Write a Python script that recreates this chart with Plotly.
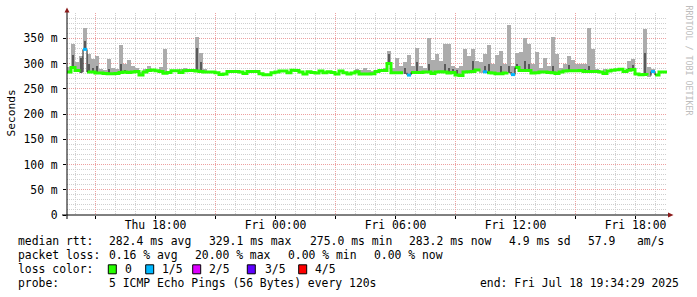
import plotly.graph_objects as go
import pandas as pd

# ---------------- data ----------------
# 150 bins of 12 minutes each, from Thu 13:34:29 to Fri 19:34:29
median_ms = [
    283, 292, 286, 283, 328, 283, 283, 281, 281, 280,
    279.5, 279.5, 280, 282, 283, 282, 283, 284, 277, 283,
    286, 287, 285.5, 284, 280.5, 282, 285.5, 285.5, 282, 285.5,
    286, 286, 285, 284, 283, 283, 283, 281.5, 278, 279,
    284, 284, 284, 283, 280, 284, 284, 284, 279.5, 277.5,
    277.5, 281.5, 283, 285, 285, 281.5, 286.5, 286, 283, 279,
    283.5, 282, 281, 285, 281.5, 283.5, 282, 279, 285, 281.5,
    279, 281, 283.5, 279, 279, 279, 279.5, 284, 286, 286,
    300, 281.5, 281.5, 281.5, 281.5, 277, 282, 282, 282, 283,
    283, 280, 283, 283.5, 283, 281, 282, 277, 276, 283,
    283.5, 284, 287, 284, 283.5, 281.5, 281, 279.5, 279.5, 281,
    283, 278, 292, 286, 286, 286, 281, 281.5, 283, 283,
    282, 281.5, 280, 283, 285, 285.5, 285.5, 285.5, 286, 284,
    284, 284, 284, 283, 280, 285, 286.5, 287.5, 288.5, 284,
    286.5, 288, 279, 277.5, 278, 276, 284, 277, 283, 283,
]

smoke_max_ms = [
    294, 339, 302, 315, 370, 319, 309, 315, 290, 287,
    309, 291, 289, 336, 300, 306, 295, 291, 283, 290,
    295, 290, None, 294, 328, None, None, None, 290, 292,
    None, 290, 352, 320, 290, None, None, None, None, None,
    None, None, None, None, None, None, None, None, None, None,
    None, None, None, None, None, None, None, None, None, None,
    None, None, None, None, None, None, None, None, None, None,
    None, None, 290, 288, 291, 288, 285, None, None, 292,
    325, 292, 310, 296, 303, 316, 295, 330, 296, 292,
    351, 306, 318, 304, 339, 339, 296, 292, 295, 328,
    314, 328, 305, 303, 318, 336, 300, 317, 325, 300,
    376, 295, 320, 323, 350, 339, 300, 323, 292, 310,
    295, 352, 319, 292, 300, 315, 306, 300, 300, 299,
    371, 329, 290, None, 290, None, None, 290, None, None,
    305, 309, None, None, 368, 294, 290, None, None, None,
]

smoke_inner_ms = [
    None, 316, 290, 310, 345, 300, 292, 295, None, None,
    290, None, None, 300, 288, None, None, None, None, None,
    None, None, None, None, None, None, None, None, None, None,
    None, None, 330, 302, None, None, None, None, None, None,
    None, None, None, None, None, None, None, None, None, None,
    None, None, None, None, None, None, None, None, None, None,
    None, None, None, None, None, None, None, None, None, None,
    None, None, None, None, None, None, None, None, None, None,
    318, None, None, None, 292, None, None, 302, None, None,
    300, None, None, None, 300, 292, 290, 288, None, None,
    None, 305, None, None, 295, 300, None, None, 295, None,
    296, None, 300, None, 305, 300, None, None, None, None,
    None, 295, None, None, None, 297, None, None, None, 290,
    295, None, None, None, None, None, None, None, None, None,
    292, 298, None, None, 320, None, None, None, None, None,
]

# bins whose median was drawn with 1/5 packet loss
loss_one_fifth_bins = [4, 85, 104, 111, 146]

start_time = "2025-07-17 13:34:29"
end_time = "2025-07-18 19:34:29"
bin_minutes = 12

y_tick_values = [0, 0.05, 0.10, 0.15, 0.20, 0.25, 0.30, 0.35]
y_tick_labels = ["0", "50 m", "100 m", "150 m", "200 m", "250 m", "300 m", "350 m"]
x_tick_times = ["2025-07-17 18:00", "2025-07-18 00:00", "2025-07-18 06:00",
                "2025-07-18 12:00", "2025-07-18 18:00"]
x_tick_labels = ["Thu 18:00", "Fri 00:00", "Fri 06:00", "Fri 12:00", "Fri 18:00"]
x_major_grid_times = ["2025-07-17 15:00", "2025-07-17 21:00", "2025-07-18 03:00",
                      "2025-07-18 09:00", "2025-07-18 15:00"]

loss_colors = ["#26ff00", "#00b8ff", "#dd00ff", "#5e00ff", "#ff0000"]
loss_labels = ["0", "1/5", "2/5", "3/5", "4/5"]

rtt_label = "median rtt:"
rtt_stats = ["282.4 ms avg", "329.1 ms max", "275.0 ms min", "283.2 ms now",
             "4.9 ms sd", "57.9", "am/s"]
loss_label = "packet loss:"
loss_stats = ["0.16 % avg", "20.00 % max", "0.00 % min", "0.00 % now"]
probe_label = "probe:"
probe_text = "5 ICMP Echo Pings (56 Bytes) every 120s"
end_text = "end: Fri Jul 18 19:34:29 2025"

# ---------------- layout constants ----------------
W, H = 697, 297
PL, PR, PT, PB = 67, 667, 13, 215   # plot area in pixels
MONO = "DejaVu Sans Mono"
FS = 11.4
MINOR = "#cfcfcf"
MAJOR = "#eda0a0"
LIGHT_SMOKE = "#acacac"
DARK_SMOKE = "#5a5a5a"
ARROW = "#8b1a1a"


def px(x):
    return (x - PL) / (PR - PL)


def py(y):
    return (PB - y) / (PB - PT)


t0 = pd.Timestamp(start_time)
step = pd.Timedelta(minutes=bin_minutes)
n = len(median_ms)
bin_starts = [t0 + i * step for i in range(n)]
bin_centers = [t + step / 2 for t in bin_starts]
bar_w = step.total_seconds() * 1000 * 0.9

fig = go.Figure()

# smoke: outer range
lx, ly, lb = [], [], []
for c, m, top in zip(bin_centers, median_ms, smoke_max_ms):
    if top is not None:
        lx.append(c)
        lb.append((m - 2) / 1000)
        ly.append((top - m + 2) / 1000)
fig.add_trace(go.Bar(x=lx, y=ly, base=lb, width=bar_w, marker_color=LIGHT_SMOKE,
                     marker_line_width=0, hoverinfo="skip", showlegend=False))

# smoke: inner range
dx, dy, db = [], [], []
for c, m, top in zip(bin_centers, median_ms, smoke_inner_ms):
    if top is not None:
        dx.append(c)
        db.append((m - 2) / 1000)
        dy.append((top - m + 2) / 1000)
fig.add_trace(go.Bar(x=dx, y=dy, base=db, width=bar_w * 0.75, marker_color=DARK_SMOKE,
                     marker_line_width=0, hoverinfo="skip", showlegend=False))

# median line (loss colour 0); bins with loss are left as gaps
mx = bin_starts + [bin_starts[-1] + step]
my = [None if i in loss_one_fifth_bins else v / 1000 for i, v in enumerate(median_ms)]
my = my + [median_ms[-1] / 1000]
fig.add_trace(go.Scatter(x=mx, y=my, mode="lines", line=dict(color=loss_colors[0], width=3, shape="hv"),
                         connectgaps=False, hoverinfo="skip", showlegend=False))

# segments with packet loss: thin dark connector + coloured step
for i in loss_one_fifth_bins:
    cx = [bin_starts[i], bin_starts[i], bin_starts[i] + step, bin_starts[i] + step]
    cy = [median_ms[i - 1] / 1000, median_ms[i] / 1000, median_ms[i] / 1000,
          median_ms[min(i + 1, n - 1)] / 1000]
    fig.add_trace(go.Scatter(x=cx, y=cy, mode="lines", line=dict(color="#111111", width=1),
                             hoverinfo="skip", showlegend=False))
    fig.add_trace(go.Scatter(x=[bin_starts[i], bin_starts[i] + step],
                             y=[median_ms[i] / 1000] * 2, mode="lines",
                             line=dict(color=loss_colors[1], width=3),
                             hoverinfo="skip", showlegend=False))

# dummy trace for secondary x axis (major grid)
fig.add_trace(go.Scatter(x=[start_time], y=[None], xaxis="x2", mode="markers",
                         showlegend=False, hoverinfo="skip"))

fig.update_layout(
    width=W, height=H,
    margin=dict(l=PL, r=W - PR, t=PT, b=H - PB, pad=0),
    paper_bgcolor="white", plot_bgcolor="white",
    barmode="overlay", bargap=0,
    showlegend=False,
    font=dict(family=MONO, size=FS, color="#000000"),
    xaxis=dict(type="date", range=[start_time, end_time],
               tickmode="array", tickvals=x_tick_times, ticktext=x_tick_labels,
               showgrid=True, gridcolor=MINOR, griddash="1px,1px", gridwidth=1,
               ticks="outside", ticklen=3, tickcolor="#000000",
               ticklabelstandoff=-4,
               tickfont=dict(family=MONO, size=FS, color="#000000"),
               minor=dict(dtick=3600000, tick0="2025-07-17 00:00:00", showgrid=True,
                          gridcolor=MINOR, griddash="1px,1px", ticks=""),
               zeroline=False, showline=False, fixedrange=True),
    xaxis2=dict(type="date", range=[start_time, end_time], overlaying="x", side="bottom",
                tickmode="array", tickvals=x_major_grid_times, showticklabels=False,
                showgrid=True, gridcolor=MAJOR, griddash="1px,1px", gridwidth=1,
                ticks="outside", ticklen=3, tickcolor="#000000",
                zeroline=False, showline=False, fixedrange=True),
    yaxis=dict(range=[0, 0.4], tickmode="array", tickvals=y_tick_values, ticktext=y_tick_labels,
               showgrid=True, gridcolor=MAJOR, griddash="1px,1px", gridwidth=1,
               ticks="outside", ticklen=3, tickcolor="#000000",
               ticklabelstandoff=3,
               tickfont=dict(family=MONO, size=FS, color="#000000"),
               minor=dict(dtick=0.01, tick0=0, showgrid=True, gridcolor=MINOR,
                          griddash="1px,1px", ticks=""),
               zeroline=False, showline=False, fixedrange=True),
)

shapes = []
# axis lines
shapes.append(dict(type="line", xref="paper", yref="paper", x0=px(62), x1=px(669),
                   y0=py(PB), y1=py(PB), line=dict(color="#000000", width=1)))
shapes.append(dict(type="line", xref="paper", yref="paper", x0=px(PL), x1=px(PL),
                   y0=py(PB + 4), y1=py(11), line=dict(color="#000000", width=1)))
# arrows
shapes.append(dict(type="path", xref="paper", yref="paper",
                   path=f"M {px(668)},{py(212.5)} L {px(673.5)},{py(215)} L {px(668)},{py(217.5)} Z",
                   fillcolor=ARROW, line=dict(color=ARROW, width=0)))
shapes.append(dict(type="path", xref="paper", yref="paper",
                   path=f"M {px(64.5)},{py(12.5)} L {px(67)},{py(7.5)} L {px(69.5)},{py(12.5)} Z",
                   fillcolor=ARROW, line=dict(color=ARROW, width=0)))

annotations = []


def text(x, y, s, anchor="left", size=FS, color="#000000", angle=0, family=MONO):
    annotations.append(dict(xref="paper", yref="paper", x=px(x), y=py(y), text=s,
                            showarrow=False, xanchor=anchor, yanchor="middle",
                            textangle=angle, font=dict(family=family, size=size, color=color)))


# y axis title
text(11, 113.5, "Seconds", anchor="center", angle=-90, size=11.2)
# watermark
text(688.5, 60, "RRDTOOL / TOBI OETIKER", anchor="center", angle=90, size=8.3, color="#bdbdbd")

# legend / statistics lines
L1, L2, L3, L4 = 240.7, 255.3, 269.3, 283.3
text(16, L1, rtt_label)
for xpos, s in zip([107.3, 207.3, 307.7, 406.7, 506.7, 586, 635], rtt_stats):
    text(xpos, L1, s)
text(16, L2, loss_label)
for xpos, s in zip([107.3, 193.3, 286, 372.3], loss_stats):
    text(xpos, L2, s)
text(16, L3, "loss color:")
box_x = [108.3, 145.7, 192.7, 247.3, 298.7]
lab_x = [123.3, 160, 206.7, 262.7, 312.7]
for bx, lx_, col, lab in zip(box_x, lab_x, loss_colors, loss_labels):
    shapes.append(dict(type="rect", xref="paper", yref="paper",
                       x0=px(bx), x1=px(bx + 8), y0=py(L3 + 4.5), y1=py(L3 - 4.5),
                       fillcolor=col, line=dict(color="#000000", width=1)))
    text(lx_, L3, lab)
text(16, L4, probe_label)
text(107.3, L4, probe_text)
text(478.3, L4, end_text)

fig.update_layout(shapes=shapes, annotations=annotations)
fig.write_html("out.html")
